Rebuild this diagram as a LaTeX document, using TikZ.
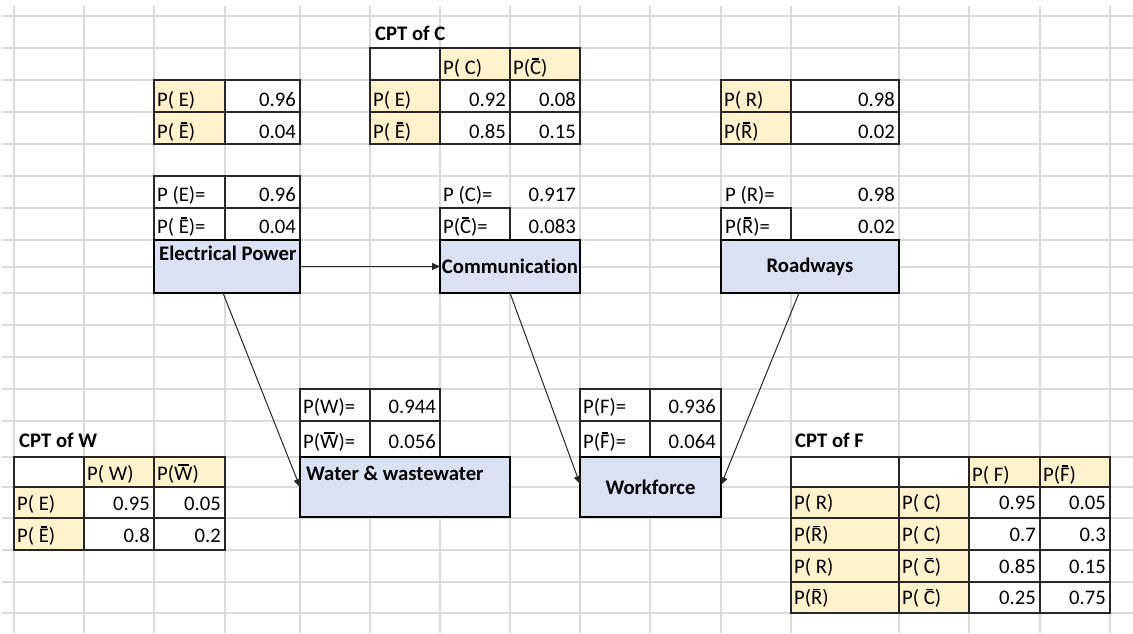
\documentclass[tikz,border=0pt]{standalone}
\usepackage{fontspec}
\setmainfont{Carlito}[Ligatures=CommonOff]
\usetikzlibrary{arrows.meta,calc}
\definecolor{gridgrey}{HTML}{DADADA}
\definecolor{hdrfill}{HTML}{FFF2CC}
\definecolor{boxfill}{HTML}{D9E1F2}
\newcommand\cellfont{\fontsize{20.7}{25}\selectfont}
% letter with a bar over it (complement event)
\newcommand\ovr[1]{{\setbox0\hbox{#1}\rlap{\hbox to \wd0{\hss\raisebox{0.7em}{\rule{0.6\wd0}{0.07em}}\hss}}\box0}}
% spreadsheet cell: name, x1, y1, x2, y2, style
\newcommand\xlcell[6]{\node[#6, anchor=north west, minimum width={(#4)-(#2)}, minimum height={(#5)-(#3)}] (#1) at (#2,#3) {};}

\begin{document}
\begin{tikzpicture}[x=1pt, y=-1pt, font=\cellfont,
  gridline/.style={draw=gridgrey, line width=1.3pt},
  hdr/.style={draw=black!85, fill=hdrfill, line width=1.1pt, inner sep=0pt, outer sep=0pt},
  val/.style={draw=black!85, fill=white, line width=1.1pt, inner sep=0pt, outer sep=0pt},
  lt/.style={anchor=base west, inner sep=0pt},
  rt/.style={anchor=base east, inner sep=0pt},
  ttl/.style={anchor=base west, inner sep=0pt, font=\cellfont\bfseries},
  netbox/.style={draw=black, fill=boxfill, line width=2.6pt, inner sep=0pt, outer sep=0pt, anchor=north west, font=\cellfont\bfseries},
  link/.style={draw=black!85, line width=1pt, -{Triangle[length=8pt,width=7pt]}}
]
\useasboundingbox (0,0) rectangle (1133,633);
\fill[white] (0,0) rectangle (1133,633);

% sheet grid
\foreach \y in {16,48,80,112,144,176,208,240,267,293,325,357,389,421,457,487,518,550,582,613}
  \draw[gridline] (2,\y) -- (1133,\y);
\foreach \x in {14,84,154,225,300,370,440,510,580,650,721,791,899,969,1040,1110}
  \draw[gridline] (\x,6) -- (\x,633);

% ---- prior of E
\xlcell{pe1}{154}{80}{225}{112}{hdr}
\xlcell{pe1v}{225}{80}{300}{112}{val}
\xlcell{pe2}{154}{112}{225}{144}{hdr}
\xlcell{pe2v}{225}{112}{300}{144}{val}
\node[lt] (pe1t) at (157,106) {P( E)};
\node[rt] (pe1n) at (296,106) {0.96};
\node[lt] (pe2t) at (157,138) {P( \ovr{E})};
\node[rt] (pe2n) at (296,138) {0.04};

% ---- CPT of C
\node[ttl] (cptc) at (375,40) {CPT of C};
\xlcell{c00}{370}{48}{440}{80}{val}
\xlcell{c01}{440}{48}{510}{80}{hdr}
\xlcell{c02}{510}{48}{580}{80}{hdr}
\xlcell{c10}{370}{80}{440}{112}{hdr}
\xlcell{c11}{440}{80}{510}{112}{val}
\xlcell{c12}{510}{80}{580}{112}{val}
\xlcell{c20}{370}{112}{440}{144}{hdr}
\xlcell{c21}{440}{112}{510}{144}{val}
\xlcell{c22}{510}{112}{580}{144}{val}
\node[lt] (c01t) at (443,74) {P( C)};
\node[lt] (c02t) at (513,74) {P(\ovr{C})};
\node[lt] (c10t) at (373,106) {P( E)};
\node[rt] (c11t) at (506,106) {0.92};
\node[rt] (c12t) at (576,106) {0.08};
\node[lt] (c20t) at (373,138) {P( \ovr{E})};
\node[rt] (c21t) at (506,138) {0.85};
\node[rt] (c22t) at (576,138) {0.15};

% ---- prior of R
\xlcell{pr1}{721}{80}{791}{112}{hdr}
\xlcell{pr1v}{791}{80}{899}{112}{val}
\xlcell{pr2}{721}{112}{791}{144}{hdr}
\xlcell{pr2v}{791}{112}{899}{144}{val}
\node[lt] (pr1t) at (724,106) {P( R)};
\node[rt] (pr1n) at (895,106) {0.98};
\node[lt] (pr2t) at (724,138) {P(\ovr{R})};
\node[rt] (pr2n) at (895,138) {0.02};

% ---- marginals above the network nodes
\xlcell{me1}{154}{176}{225}{208}{val}
\xlcell{me1v}{225}{176}{300}{208}{val}
\xlcell{me2}{154}{208}{225}{240}{val}
\xlcell{me2v}{225}{208}{300}{240}{val}
\node[lt] (me1t) at (157,201) {P (E)=};
\node[rt] (me1n) at (296,201) {0.96};
\node[lt] (me2t) at (157,233) {P( \ovr{E})=};
\node[rt] (me2n) at (296,233) {0.04};

\xlcell{mc2}{440}{208}{510}{240}{val}
\node[lt] (mc1t) at (443,201) {P (C)=};
\node[rt] (mc1n) at (576,201) {0.917};
\node[lt] (mc2t) at (443,233) {P(\ovr{C})=};
\node[rt] (mc2n) at (576,233) {0.083};

\xlcell{mr2}{721}{208}{791}{240}{val}
\node[lt] (mr1t) at (725,201) {P (R)=};
\node[rt] (mr1n) at (895,201) {0.98};
\node[lt] (mr2t) at (725,233) {P(\ovr{R})=};
\node[rt] (mr2n) at (895,233) {0.02};

\xlcell{mw1}{300}{389}{370}{421}{val}
\xlcell{mw1v}{370}{389}{440}{421}{val}
\xlcell{mw2}{300}{421}{370}{457}{val}
\xlcell{mw2v}{370}{421}{440}{457}{val}
\node[lt] (mw1t) at (303,413) {P(W)=};
\node[rt] (mw1n) at (436,413) {0.944};
\node[lt] (mw2t) at (303,448) {P(\ovr{W})=};
\node[rt] (mw2n) at (436,448) {0.056};

\xlcell{mf1}{580}{389}{650}{421}{val}
\xlcell{mf1v}{650}{389}{721}{421}{val}
\xlcell{mf2}{580}{421}{650}{457}{val}
\xlcell{mf2v}{650}{421}{721}{457}{val}
\node[lt] (mf1t) at (583,413) {P(F)=};
\node[rt] (mf1n) at (716,413) {0.936};
\node[lt] (mf2t) at (583,448) {P(\ovr{F})=};
\node[rt] (mf2n) at (716,448) {0.064};

% ---- network nodes
\node[netbox, minimum width=146pt, minimum height=53pt] (ep) at (154,240) {};
\node[lt, font=\cellfont\bfseries] (eplbl) at (159,260) {Electrical Power};
\node[netbox, minimum width=140pt, minimum height=53pt] (comm) at (440,240) {Communication};
\node[netbox, minimum width=178pt, minimum height=53pt] (road) at (721,240) {Roadways};
\node[netbox, minimum width=210pt, minimum height=60pt] (water) at (300,457) {};
\node[lt, font=\cellfont\bfseries] (waterlbl) at (306,480) {Water \& wastewater};
\node[netbox, minimum width=141pt, minimum height=60pt] (work) at (580,457) {Workforce};

% ---- CPT of W
\node[ttl] (cptw) at (19,447) {CPT of W};
\xlcell{w00}{14}{457}{84}{487}{val}
\xlcell{w01}{84}{457}{154}{487}{hdr}
\xlcell{w02}{154}{457}{225}{487}{hdr}
\xlcell{w10}{14}{487}{84}{518}{hdr}
\xlcell{w11}{84}{487}{154}{518}{val}
\xlcell{w12}{154}{487}{225}{518}{val}
\xlcell{w20}{14}{518}{84}{550}{hdr}
\xlcell{w21}{84}{518}{154}{550}{val}
\xlcell{w22}{154}{518}{225}{550}{val}
\node[lt] (w01t) at (87,480) {P( W)};
\node[lt] (w02t) at (157,480) {P(\ovr{W})};
\node[lt] (w10t) at (17,510) {P( E)};
\node[rt] (w11t) at (150,510) {0.95};
\node[rt] (w12t) at (221,510) {0.05};
\node[lt] (w20t) at (17,542) {P( \ovr{E})};
\node[rt] (w21t) at (150,542) {0.8};
\node[rt] (w22t) at (221,542) {0.2};

% ---- CPT of F
\node[ttl] (cptf) at (795,447) {CPT of F};
\xlcell{f00}{791}{457}{899}{487}{val}
\xlcell{f01}{899}{457}{969}{487}{val}
\xlcell{f02}{969}{457}{1040}{487}{hdr}
\xlcell{f03}{1040}{457}{1110}{487}{hdr}
\node[lt] (f02t) at (972,481) {P( F)};
\node[lt] (f03t) at (1043,481) {P(\ovr{F})};
\foreach \r/\ya/\yb/\ra/\cb/\pf/\pn in {1/487/518/{P( R)}/{P( C)}/0.95/0.05,
                                       2/518/550/{P(\ovr{R})}/{P( C)}/0.7/0.3,
                                       3/550/582/{P( R)}/{P( \ovr{C})}/0.85/0.15,
                                       4/582/613/{P(\ovr{R})}/{P( \ovr{C})}/0.25/0.75}{
  \xlcell{f\r0}{791}{\ya}{899}{\yb}{hdr}
  \xlcell{f\r1}{899}{\ya}{969}{\yb}{hdr}
  \xlcell{f\r2}{969}{\ya}{1040}{\yb}{val}
  \xlcell{f\r3}{1040}{\ya}{1110}{\yb}{val}
  \node[lt] (f\r0t) at (794,\yb-8.5) {\ra};
  \node[lt] (f\r1t) at (902,\yb-8.5) {\cb};
  \node[rt] (f\r2t) at (1036,\yb-8.5) {\pf};
  \node[rt] (f\r3t) at (1106,\yb-8.5) {\pn};
}

% ---- dependencies
\draw[link] (ep.east) -- (comm.west);
\draw[link] ($(ep.south)+(-4,0)$) -- (water.west);
\draw[link] (comm.south) -- ($(work.west)+(0,-3)$);
\draw[link] ($(road.south)+(-11,0)$) -- ($(work.east)+(0,-2)$);
\end{tikzpicture}
\end{document}
